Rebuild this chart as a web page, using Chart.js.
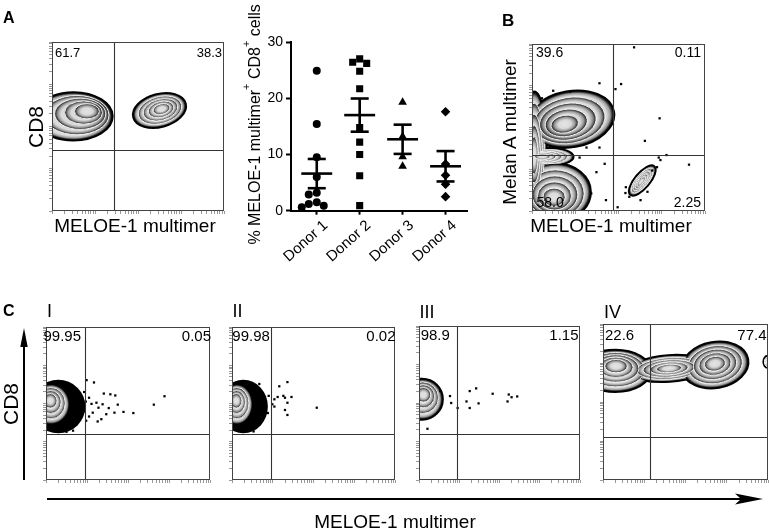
<!DOCTYPE html>
<html><head><meta charset="utf-8"><title>MELOE-1 multimer</title>
<script src="https://cdn.jsdelivr.net/npm/chart.js@4.4.0/dist/chart.umd.min.js"></script>
<style>
html,body{margin:0;padding:0;background:#fff;}
#fig{position:relative;width:769px;height:532px;overflow:hidden;background:#fff;font-family:"Liberation Sans",Arial,Helvetica,sans-serif;color:#000;}
#fig canvas{position:absolute;}
.lbl{position:absolute;white-space:nowrap;line-height:1;z-index:5;}
#arrows{position:absolute;left:0;top:0;z-index:4;pointer-events:none;}
</style></head><body>
<div id="fig">
<canvas id="flowA"></canvas>
<canvas id="dots" width="240" height="272" style="left:240px;top:0px"></canvas>
<canvas id="flowB"></canvas>
<canvas id="flowC1"></canvas>
<canvas id="flowC2"></canvas>
<canvas id="flowC3"></canvas>
<canvas id="flowC4"></canvas>
<svg id="arrows" width="769" height="532">
  <line x1="24" y1="480" x2="24" y2="344" stroke="#000" stroke-width="2"/>
  <polygon points="24,328 20.3,347 27.7,347" fill="#000"/>
  <line x1="47" y1="499" x2="744" y2="499" stroke="#000" stroke-width="2.2"/>
  <path d="M763,499 L735,493.5 L741,499 L735,504.5 Z" fill="#000"/>
</svg>
</div>
<script>
// ---------------- data ----------------
const donorCategories = ['Donor 1', 'Donor 2', 'Donor 3', 'Donor 4'];
const donor1Values = [24.9, 15.4, 9.5, 6.0, 3.2, 2.9, 1.5, 1.2, 0.9, 0.6];
const donor2Values = [27.0, 26.4, 26.2, 24.8, 21.7, 14.8, 12.2, 10.0, 6.2, 0.9];
const donor3Values = [19.3, 13.2, 9.6, 7.9];
const donor4Values = [17.6, 8.3, 6.3, 4.7, 2.5];
const donorMeans = [6.6, 17.0, 12.7, 7.9];
const donorSEM = [2.6, 2.95, 2.6, 2.7];
const yTickValues = [0, 10, 20, 30];

// flow plots: gates [x, y] in log decades
const gateA = [1.44, 1.45];
const gateB = [1.88, 1.34];
const gateC1 = [0.96, 1.19];
const gateC2 = [0.955, 1.19];
const gateC3 = [0.94, 1.19];
const gateC4 = [1.13, 1.09];

// quadrant percentages [upper-left, upper-right, lower-left, lower-right]
const quadA = ['61.7', '38.3', '', ''];
const quadB = ['39.6', '0.11', '58.0', '2.25'];
const quadC1 = ['99.95', '0.05', '', ''];
const quadC2 = ['99.98', '0.02', '', ''];
const quadC3 = ['98.9', '1.15', '', ''];
const quadC4 = ['22.6', '77.4', '', ''];

// populations [centerX, centerY, radiusX, radiusY, tiltDeg, peakX, peakY] (decades)
const popsA = [[0.5, 2.24, 0.9, 0.56, 0, 0.89, 2.39], [2.5, 2.38, 0.62, 0.38, 15, 2.56, 2.42]];
const popsB = [[0.05, 1.45, 0.28, 1.4, 0, 0.05, 1.3], [0.9, 2.2, 1.0, 0.66, 10, 0.72, 2.05], [0.4, 1.3, 0.55, 0.2, 0, 0.2, 1.3], [0.55, 0.45, 0.8, 0.68, 0, 0.5, 0.3], [2.55, 0.73, 0.42, 0.17, 50, 2.52, 0.7]];
const popsC1 = [[0.12, 1.98, 0.45, 0.52, 0, 0.1, 2.1]];
const popsC2 = [[0.12, 1.98, 0.38, 0.52, 0, 0.1, 2.1]];
const popsC3 = [[0.08, 2.1, 0.5, 0.52, 0, 0.12, 2.25]];
const popsC4 = [[0.3, 2.8, 0.85, 0.53, 0, 0.32, 2.95], [1.6, 2.86, 0.95, 0.33, 4, 1.6, 2.86], [2.72, 2.95, 0.8, 0.58, 10, 2.71, 2.99], [3.99, 3.03, 0.09, 0.14, 0, 3.99, 3.03]];
// dense dark regions [centerX, centerY, radiusX, radiusY]
const halosC1 = [[0.3, 1.92, 0.66, 0.7]];
const halosC2 = [[0.28, 1.92, 0.6, 0.7]];

// individual events [x, y] (decades)
const eventsA = [];
const eventsB = [[2.36,3.92],[2.95,2.22],[2.61,1.68],[3.63,1.11],[3.11,1.34],[2.93,1.28],[1.98,0.09],[2.06,3.04],[1.93,2.92],[1.56,3.06],[0.88,2.86],[1.49,0.93],[1.68,1.13],[1.71,0.26],[1.37,0.42],[1.56,1.52],[1.10,1.28],[1.26,1.52],[0.49,2.88],[0.23,2.70],[2.17,0.57],[2.16,0.43],[2.25,0.34],[2.51,0.26],[2.67,0.46],[2.78,0.97],[2.89,1.05],[2.97,1.22]];
const eventsC1 = [[0.99,2.61],[1.17,2.55],[1.41,2.26],[1.57,2.24],[1.69,2.21],[2.89,2.19],[2.63,1.97],[1.75,1.97],[1.38,1.98],[1.23,2.02],[1.11,1.99],[1.05,2.15],[1.28,1.89],[1.53,1.88],[1.14,1.76],[1.47,1.72],[1.67,1.76],[1.89,1.78],[2.13,1.75],[1.35,1.59],[1.26,1.53],[1.05,1.66],[0.66,1.29],[0.50,1.26],[0.93,2.3],[0.97,2.05],[0.92,1.8],[0.98,1.55]];
const eventsC2 = [[0.67,2.51],[1.16,2.45],[1.36,2.56],[1.12,2.17],[1.26,2.20],[1.30,2.15],[1.46,2.17],[1.04,2.11],[1.36,2.02],[1.30,1.83],[1.36,1.70],[2.08,1.89],[0.99,1.98],[1.04,1.92],[0.45,1.31],[0.53,1.27],[0.9,2.2],[0.88,1.75]];
const eventsC3 = [[0.53,2.31],[0.77,2.18],[0.80,2.00],[0.96,1.87],[1.26,2.31],[1.42,2.38],[1.18,2.04],[1.48,1.99],[1.26,1.87],[1.83,2.24],[2.23,2.22],[2.30,2.15],[2.44,2.17],[2.20,2.04],[0.21,1.33]];
const eventsC4 = [];

// ---------------- rendering ----------------
const FAM = '"Liberation Sans", Arial, Helvetica, sans-serif';
Chart.defaults.font.family = FAM;
Chart.defaults.color = '#000';

const flowTicks = [];
for (let d = 0; d < 4; d++) for (let k = 1; k < 10; k++) flowTicks.push(d + Math.log10(k));
flowTicks.push(4);

function ellipsePath(ctx, cx, cy, rx, ry, rot) {
  ctx.beginPath();
  ctx.ellipse(cx, cy, Math.max(rx, 0.1), Math.max(ry, 0.1), rot, 0, Math.PI * 2);
}

function drawPops(ctx, xs, ys, pops, halos, levels) {
  const kx = xs.getPixelForValue(1) - xs.getPixelForValue(0);
  const ky = ys.getPixelForValue(0) - ys.getPixelForValue(1);
  halos.forEach(h => {
    ellipsePath(ctx, xs.getPixelForValue(h[0]), ys.getPixelForValue(h[1]), h[2] * kx, h[3] * ky, 0);
    ctx.fillStyle = '#000'; ctx.fill();
  });
  pops.forEach(p => {
    ellipsePath(ctx, xs.getPixelForValue(p[0]), ys.getPixelForValue(p[1]), p[2] * kx, p[3] * ky, -p[4] * Math.PI / 180);
    ctx.lineWidth = 3; ctx.strokeStyle = '#000'; ctx.stroke();
  });
  for (let k = 0; k < levels; k++) {
    pops.forEach(p => {
      const t = k / levels;
      const s = 1 - 0.85 * t, sn = 1 - 0.85 * (k + 1) / levels;
      const cx = xs.getPixelForValue(p[0] + (p[5] - p[0]) * t);
      const cy = ys.getPixelForValue(p[1] + (p[6] - p[1]) * t);
      const rx = Math.max(p[2] * kx * s, 0.5), ry = Math.max(p[3] * ky * s, 0.5), rot = -p[4] * Math.PI / 180;
      ctx.save();
      ctx.translate(cx, cy); ctx.rotate(rot); ctx.scale(rx, ry);
      const g = ctx.createRadialGradient(0, 0, 0, 0, 0, 1);
      const r0 = sn / s;
      g.addColorStop(0, '#e4e4e4');
      g.addColorStop(r0, '#dadada');
      g.addColorStop(r0 + (1 - r0) * 0.5, '#9a9a9a');
      g.addColorStop(r0 + (1 - r0) * 0.85, k === 0 ? '#1a1a1a' : '#3a3a3a');
      g.addColorStop(1, '#000');
      ctx.beginPath(); ctx.arc(0, 0, 1, 0, Math.PI * 2); ctx.fillStyle = g; ctx.fill();
      ctx.restore();
      if (k > 0) {
        ellipsePath(ctx, cx, cy, rx, ry, rot);
        ctx.lineWidth = 0.9; ctx.strokeStyle = '#fff'; ctx.stroke();
      }
    });
  }
}

function makeFlow(id, box, gate, pops, halos, events, levels) {
  const cv = document.getElementById(id);
  const w = box[2] - box[0], h = box[3] - box[1];
  cv.width = w + 6; cv.height = h + 6;
  cv.style.left = (box[0] - 4) + 'px'; cv.style.top = (box[1] - 2) + 'px';
  const axis = (isX) => ({
    type: 'linear', min: 0, max: 4,
    afterBuildTicks: s => { s.ticks = flowTicks.map(v => ({ value: v })); },
    afterFit: s => { if (isX) s.height = 4; else s.width = 4; },
    ticks: { display: false },
    grid: { display: true, drawOnChartArea: false, drawTicks: true, tickLength: 3, tickColor: '#999', tickWidth: 1 },
    border: { display: false }
  });
  return new Chart(cv, {
    type: 'scatter',
    data: { datasets: [{ data: events.map(e => ({ x: e[0], y: e[1] })), pointStyle: 'rect', pointRadius: 1.6, backgroundColor: '#000', borderWidth: 0 }] },
    options: {
      responsive: false, animation: false, events: [],
      layout: { padding: { left: 0, top: 2, right: 2, bottom: 0 } },
      plugins: { legend: { display: false }, tooltip: { enabled: false } },
      scales: { x: axis(true), y: axis(false) }
    },
    plugins: [{
      id: 'flowDraw',
      beforeDatasetsDraw(chart) {
        const { ctx, chartArea: a, scales: { x, y } } = chart;
        ctx.save();
        ctx.beginPath(); ctx.rect(a.left, a.top, a.right - a.left, a.bottom - a.top); ctx.clip();
        drawPops(ctx, x, y, pops, halos, levels);
        ctx.restore();
      },
      afterDatasetsDraw(chart) {
        const { ctx, chartArea: a, scales: { x, y } } = chart;
        ctx.save();
        ctx.strokeStyle = '#333'; ctx.lineWidth = 1.1;
        const gx = Math.round(x.getPixelForValue(gate[0])) + 0.5;
        const gy = Math.round(y.getPixelForValue(gate[1])) + 0.5;
        ctx.beginPath(); ctx.moveTo(gx, a.top); ctx.lineTo(gx, a.bottom); ctx.stroke();
        ctx.beginPath(); ctx.moveTo(a.left, gy); ctx.lineTo(a.right, gy); ctx.stroke();
        ctx.strokeStyle = '#444'; ctx.lineWidth = 1;
        ctx.strokeRect(a.left + 0.5, a.top + 0.5, a.right - a.left - 1, a.bottom - a.top - 1);
        ctx.restore();
      }
    }]
  });
}

makeFlow('flowA', [52, 42, 224, 211], gateA, popsA, [], eventsA, 5);
makeFlow('flowB', [532, 42, 707, 211], gateB, popsB, [], eventsB, 5);
makeFlow('flowC1', [46, 325, 212, 480], gateC1, popsC1, halosC1, eventsC1, 4);
makeFlow('flowC2', [232, 325, 397, 480], gateC2, popsC2, halosC2, eventsC2, 4);
makeFlow('flowC3', [419, 324, 582, 480], gateC3, popsC3, [], eventsC3, 4);
makeFlow('flowC4', [603, 324, 768, 480], gateC4, popsC4, [], eventsC4, 5);

// ---------------- dot plot ----------------
const donorSeries = [donor1Values, donor2Values, donor3Values, donor4Values];
const donorShapes = ['circle', 'rect', 'triangle', 'rectRot'];
const donorRadius = [4, 5, 5, 4.8];

const dotChart = new Chart(document.getElementById('dots'), {
  type: 'scatter',
  data: {
    datasets: donorSeries.map((vals, i) => ({
      data: vals.map(v => ({ x: i, y: v })),
      pointStyle: donorShapes[i], pointRadius: donorRadius[i],
      backgroundColor: '#000', borderColor: '#000', borderWidth: 0
    }))
  },
  options: {
    responsive: false, animation: false, events: [],
    layout: { padding: { left: 0, top: 42, right: 13, bottom: 0 } },
    plugins: { legend: { display: false }, tooltip: { enabled: false } },
    scales: {
      x: {
        type: 'linear', min: -0.6, max: 3.5,
        afterBuildTicks: s => { s.ticks = donorCategories.map((_, i) => ({ value: i })); },
        afterFit: s => { s.height = 61.3; },
        ticks: { callback: v => donorCategories[v] ?? '', minRotation: 42, maxRotation: 42, autoSkip: false, font: { size: 15 }, color: '#000', padding: 2, labelOffset: 9 },
        grid: { display: true, drawOnChartArea: false, drawTicks: true, tickLength: 4, tickWidth: 2, tickColor: '#000' },
        border: { display: true, color: '#000', width: 2 }
      },
      y: {
        min: 0, max: 30,
        afterBuildTicks: s => { s.ticks = yTickValues.map(v => ({ value: v })); },
        afterFit: s => { s.width = 51; },
        ticks: { font: { size: 14 }, color: '#000', padding: 3 },
        grid: { display: true, drawOnChartArea: false, drawTicks: true, tickLength: 5, tickWidth: 2, tickColor: '#000' },
        border: { display: true, color: '#000', width: 2 }
      }
    }
  },
  plugins: [{
    id: 'meanSem',
    afterDatasetsDraw(chart) {
      const { ctx, scales: { x, y } } = chart;
      ctx.save(); ctx.strokeStyle = '#000'; ctx.lineCap = 'butt';
      donorMeans.forEach((m, i) => {
        const cx = x.getPixelForValue(i);
        const ym = y.getPixelForValue(m), yt = y.getPixelForValue(m + donorSEM[i]), yb = y.getPixelForValue(m - donorSEM[i]);
        ctx.lineWidth = 2.6;
        ctx.beginPath(); ctx.moveTo(x.getPixelForValue(i - 0.36), ym); ctx.lineTo(x.getPixelForValue(i + 0.36), ym); ctx.stroke();
        ctx.beginPath(); ctx.moveTo(x.getPixelForValue(i - 0.21), yt); ctx.lineTo(x.getPixelForValue(i + 0.21), yt); ctx.stroke();
        ctx.beginPath(); ctx.moveTo(x.getPixelForValue(i - 0.21), yb); ctx.lineTo(x.getPixelForValue(i + 0.21), yb); ctx.stroke();
        ctx.beginPath(); ctx.moveTo(cx, yt); ctx.lineTo(cx, yb); ctx.stroke();
      });
      ctx.restore();
    },
    afterDraw(chart) {
      const { ctx, chartArea: a } = chart;
      const parts = [['% MELOE-1 multimer', 0], ['+', 1], [' CD8', 0], ['+', 1], [' cells', 0]];
      const fMain = '16px ' + FAM, fSup = '11px ' + FAM;
      ctx.save();
      let total = 0;
      parts.forEach(p => { ctx.font = p[1] ? fSup : fMain; total += ctx.measureText(p[0]).width; });
      ctx.translate(13.5, (a.top + a.bottom) / 2 - 2);
      ctx.rotate(-Math.PI / 2);
      ctx.fillStyle = '#000'; ctx.textBaseline = 'alphabetic'; ctx.textAlign = 'left';
      let xPos = -total / 2;
      parts.forEach(p => {
        ctx.font = p[1] ? fSup : fMain;
        ctx.fillText(p[0], xPos, p[1] ? -4 : 6);
        xPos += ctx.measureText(p[0]).width;
      });
      ctx.restore();
    }
  }]
});

// beeswarm spreading of overlapping points, using the chart's own scales
(function () {
  const xs = dotChart.scales.x, ys = dotChart.scales.y;
  const kx = xs.getPixelForValue(1) - xs.getPixelForValue(0);
  const ky = ys.getPixelForValue(0) - ys.getPixelForValue(1);
  const diam = 7.6;
  donorSeries.forEach((vals, ci) => {
    const order = vals.map((_, i) => i).sort((a, b) => vals[b] - vals[a]);
    const placed = [], off = new Array(vals.length).fill(0);
    order.forEach(i => {
      const cand = [0];
      for (let s = 1; s <= 30; s++) cand.push(-s, s);
      for (const c of cand) {
        if (placed.every(p => Math.hypot(p.dx - c, (p.v - vals[i]) * ky) >= diam)) {
          off[i] = c; placed.push({ dx: c, v: vals[i] }); break;
        }
      }
    });
    dotChart.data.datasets[ci].data = vals.map((v, i) => ({ x: ci + off[i] / kx, y: v }));
  });
  dotChart.update();
})();

// ---------------- HTML text labels ----------------
const fig = document.getElementById('fig');
function label(text, x, baseline, fs, align, bold) {
  const d = document.createElement('div');
  d.className = 'lbl'; d.textContent = text;
  d.style.fontSize = fs + 'px';
  if (bold) d.style.fontWeight = 'bold';
  d.style.left = x + 'px';
  d.style.top = (baseline - 0.847 * fs) + 'px';
  if (align === 'right') d.style.transform = 'translateX(-100%)';
  if (align === 'center') d.style.transform = 'translateX(-50%)';
  fig.appendChild(d);
}
function vlabel(text, cx, cy, fs) {
  const d = document.createElement('div');
  d.className = 'lbl'; d.textContent = text;
  d.style.fontSize = fs + 'px';
  d.style.left = cx + 'px'; d.style.top = cy + 'px';
  d.style.transform = 'translate(-50%,-50%) rotate(-90deg)';
  fig.appendChild(d);
}
// panel letters
label('A', 3, 23.3, 16, 'left', true);
label('B', 502, 26.5, 17, 'left', true);
label('C', 3, 316.7, 16, 'left', true);
// axis titles
vlabel('CD8', 34.5, 127, 21);
label('MELOE-1 multimer', 135, 232.5, 19, 'center');
vlabel('Melan A multimer', 508.5, 132, 19);
label('MELOE-1 multimer', 611, 232.5, 19, 'center');
vlabel('CD8', 10, 404, 21);
label('MELOE-1 multimer', 395, 528, 19, 'center');
// panel C sub-titles
label('I', 47, 317.7, 18, 'left');
label('II', 232.5, 317.7, 18, 'left');
label('III', 419.5, 318.3, 18, 'left');
label('IV', 604, 318, 18, 'left');
// quadrant numbers
label(quadA[0], 55, 57.5, 13, 'left'); label(quadA[1], 222, 57.5, 13, 'right');
label(quadB[0], 536, 57.3, 14, 'left'); label(quadB[1], 701, 57.3, 14, 'right');
label(quadB[2], 536.5, 207.3, 14, 'left'); label(quadB[3], 701, 207.3, 14, 'right');
label(quadC1[0], 43.5, 340.7, 15, 'left'); label(quadC1[1], 211, 340.7, 15, 'right');
label(quadC2[0], 232.3, 340.7, 15, 'left'); label(quadC2[1], 395.5, 340.7, 15, 'right');
label(quadC3[0], 420.7, 339.3, 15, 'left'); label(quadC3[1], 578.5, 339.3, 15, 'right');
label(quadC4[0], 605, 339.3, 15, 'left'); label(quadC4[1], 766.5, 339.3, 15, 'right');
</script>
</body></html>
